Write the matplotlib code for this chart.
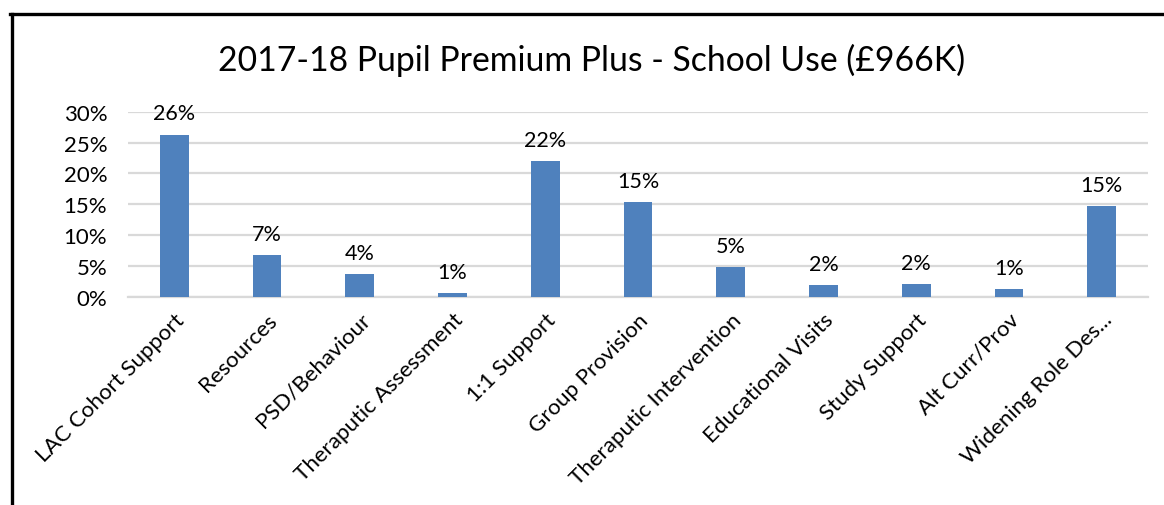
"""2017-18 Pupil Premium Plus - school use, bar chart recreation."""
import matplotlib
matplotlib.use("Agg")
import matplotlib.pyplot as plt
from matplotlib.lines import Line2D
from matplotlib.ticker import PercentFormatter

plt.rcParams["font.family"] = ["Lato", "DejaVu Sans"]

TITLE = "2017-18 Pupil Premium Plus - School Use (£966K)"
CATEGORIES = [
    "LAC Cohort Support", "Resources", "PSD/Behaviour", "Theraputic Assessment",
    "1:1 Support", "Group Provision", "Theraputic Intervention",
    "Educational Visits", "Study Support", "Alt Curr/Prov", "Widening Role Des...",
]
SHARES = [0.263, 0.068, 0.037, 0.006, 0.220, 0.153, 0.048, 0.019, 0.020, 0.013, 0.147]
Y_TICKS = [0, 0.05, 0.10, 0.15, 0.20, 0.25, 0.30]

BLUE = "#4F81BD"
GRID = "#D9D9D9"

W, H = 1164, 506
fig = plt.figure(figsize=(W / 100, H / 100), dpi=100)
ax = fig.add_axes([128 / W, 1 - 297.7 / H, (1148 - 128) / W, (297.7 - 112.7) / H])

x = range(len(CATEGORIES))
bars = ax.bar(x, SHARES, width=0.31, color=BLUE, zorder=3)
for bar, v in zip(bars, SHARES):
    ax.annotate(f"{v * 100:.0f}%", (bar.get_x() + bar.get_width() / 2, v),
                xytext=(0, 8), textcoords="offset points",
                ha="center", va="bottom", fontsize=15.5)

ax.set_xlim(-0.5, len(CATEGORIES) - 0.5)
ax.set_ylim(0, 0.30)
ax.set_yticks(Y_TICKS)
ax.yaxis.set_major_formatter(PercentFormatter(1.0, decimals=0))
ax.set_xticks(list(x))
ax.set_xticklabels(CATEGORIES, rotation=45, ha="right", rotation_mode="anchor")
ax.tick_params(axis="both", length=0, labelsize=16)
ax.tick_params(axis="x", pad=9)
ax.tick_params(axis="y", pad=15)
ax.grid(axis="y", color=GRID, lw=1.6, zorder=0)
for side in ("top", "right", "left"):
    ax.spines[side].set_visible(False)
ax.spines["bottom"].set_color(GRID)
ax.spines["bottom"].set_linewidth(1.6)

fig.text(592 / W, 1 - 60 / H, TITLE, ha="center", va="center", fontsize=24.3)

# outer frame (top and left edges only, as cropped in the source)
fig.add_artist(Line2D([10 / W, 1], [1 - 14.5 / H] * 2, color="black", lw=2.4))
fig.add_artist(Line2D([11.5 / W] * 2, [0, 1 - 14.5 / H], color="black", lw=2.4))

fig.savefig("out.png", dpi=100)
